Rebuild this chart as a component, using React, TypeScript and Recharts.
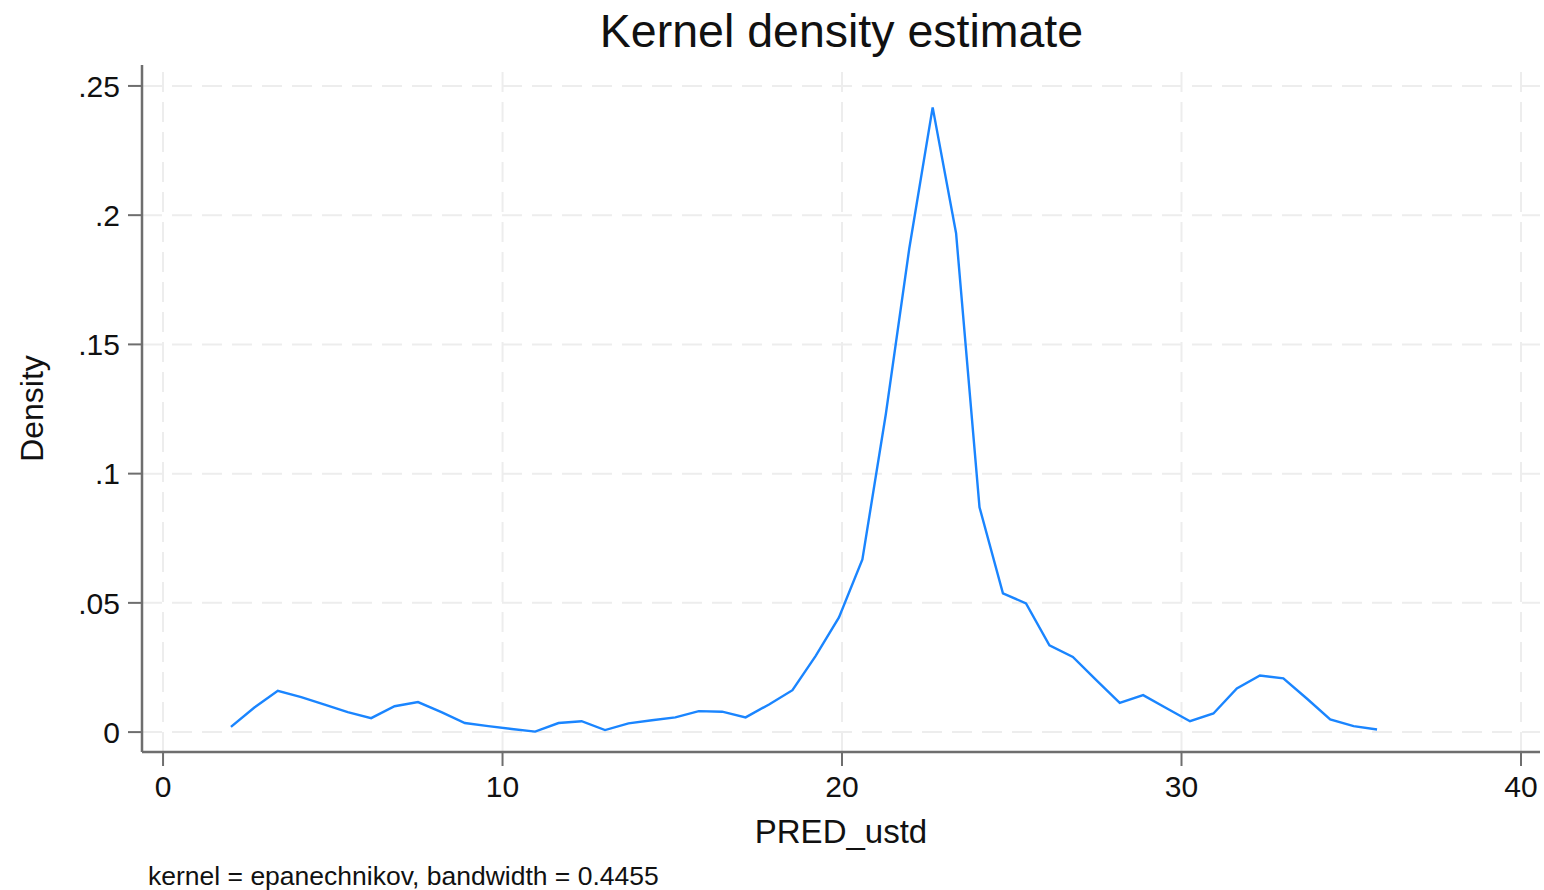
import React from 'react';
import { LineChart, Line, XAxis, YAxis, ReferenceLine } from 'recharts';

const xValues = [
  2.00, 2.69, 3.38, 4.07, 4.76, 5.44, 6.13, 6.82, 7.51, 8.20,
  8.89, 9.58, 10.27, 10.96, 11.65, 12.33, 13.02, 13.71, 14.40, 15.09,
  15.78, 16.47, 17.16, 17.85, 18.54, 19.22, 19.91, 20.60, 21.29, 21.98,
  22.67, 23.36, 24.05, 24.74, 25.42, 26.11, 26.80, 27.49, 28.18, 28.87,
  29.56, 30.25, 30.94, 31.63, 32.31, 33.00, 33.69, 34.38, 35.07, 35.76,
];

const densityValues = [
  0.0020, 0.0095, 0.0160, 0.0135, 0.0106, 0.0077, 0.0054, 0.0100, 0.0116, 0.0077,
  0.0035, 0.0023, 0.0012, 0.0002, 0.0035, 0.0042, 0.0008, 0.0034, 0.0046, 0.0057,
  0.0081, 0.0079, 0.0057, 0.0107, 0.0162, 0.0294, 0.0444, 0.0668, 0.1230, 0.1870,
  0.2417, 0.1930, 0.0870, 0.0537, 0.0498, 0.0336, 0.0291, 0.0201, 0.0113, 0.0143,
  0.0092, 0.0042, 0.0072, 0.0169, 0.0219, 0.0208, 0.0130, 0.0049, 0.0023, 0.0010,
];

const xTicks = [0, 10, 20, 30, 40];
const yTicks = [0, 0.05, 0.1, 0.15, 0.2, 0.25];
const yTickLabels = ['0', '.05', '.1', '.15', '.2', '.25'];

const title = 'Kernel density estimate';
const xTitle = 'PRED_ustd';
const yTitle = 'Density';
const note = 'kernel = epanechnikov, bandwidth = 0.4455';

const data = xValues.map((x, i) => ({ x, density: densityValues[i] }));

const FONT = '"Liberation Sans", Arial, Helvetica, sans-serif';
const AXIS_COLOR = '#6e6e6e';
const GRID_COLOR = '#ededed';

export default function App() {
  return (
    <div style={{ position: 'absolute', left: 0, top: 0, width: 1544, height: 890, background: '#fff', fontFamily: FONT }}>
      <LineChart
        width={1544}
        height={890}
        data={data}
        margin={{ top: 65, right: 4, bottom: 38, left: 0 }}
        style={{ position: 'absolute', left: 0, top: 0 }}
      >
        {yTicks.map((t) => (
          <ReferenceLine key={`gy${t}`} y={t} stroke={GRID_COLOR} strokeWidth={2} strokeDasharray="20 10" />
        ))}
        {xTicks.map((t) => (
          <ReferenceLine key={`gx${t}`} x={t} stroke={GRID_COLOR} strokeWidth={2} strokeDasharray="20 10" />
        ))}
        <XAxis
          dataKey="x"
          type="number"
          domain={[-0.62, 40.56]}
          ticks={xTicks}
          allowDataOverflow
          height={100}
          tickSize={14}
          tickMargin={10}
          stroke={AXIS_COLOR}
          axisLine={{ stroke: AXIS_COLOR, strokeWidth: 2.5 }}
          tickLine={{ stroke: AXIS_COLOR, strokeWidth: 2 }}
          tick={{ fill: '#111', fontSize: 30, fontFamily: FONT }}
          label={{ value: xTitle, position: 'insideBottom', offset: 9, fill: '#111', fontSize: 33, fontFamily: FONT }}
        />
        <YAxis
          type="number"
          domain={[-0.0077, 0.2581]}
          ticks={yTicks}
          allowDataOverflow
          width={142}
          tickSize={14}
          tickMargin={8}
          stroke={AXIS_COLOR}
          axisLine={{ stroke: AXIS_COLOR, strokeWidth: 2.5 }}
          tickLine={{ stroke: AXIS_COLOR, strokeWidth: 2 }}
          tick={{ fill: '#111', fontSize: 30, fontFamily: FONT }}
          tickFormatter={(v: number) => {
            const i = yTicks.findIndex((t) => Math.abs(t - v) < 1e-9);
            return i >= 0 ? yTickLabels[i] : String(v);
          }}
          label={{
            content: (props: any) => {
              const vb = props.viewBox || { x: 0, y: 65, width: 142, height: 687 };
              const cx = 32;
              const cy = vb.y + vb.height / 2;
              return (
                <text
                  x={cx}
                  y={cy}
                  transform={`rotate(-90, ${cx}, ${cy})`}
                  textAnchor="middle"
                  dominantBaseline="central"
                  fill="#111"
                  fontSize={32}
                  fontFamily={FONT}
                >
                  {yTitle}
                </text>
              );
            },
          }}
        />
        <Line
          type="linear"
          dataKey="density"
          stroke="#1a85ff"
          strokeWidth={2.4}
          dot={false}
          isAnimationActive={false}
        />
      </LineChart>
      <div
        style={{
          position: 'absolute', left: 0, top: 8, width: 1683, textAlign: 'center',
          fontSize: 46.5, lineHeight: '46px', color: '#111', whiteSpace: 'nowrap',
        }}
      >
        {title}
      </div>
      <div
        style={{
          position: 'absolute', left: 148, top: 863, fontSize: 26.5, lineHeight: '26px',
          color: '#111', whiteSpace: 'nowrap',
        }}
      >
        {note}
      </div>
    </div>
  );
}
